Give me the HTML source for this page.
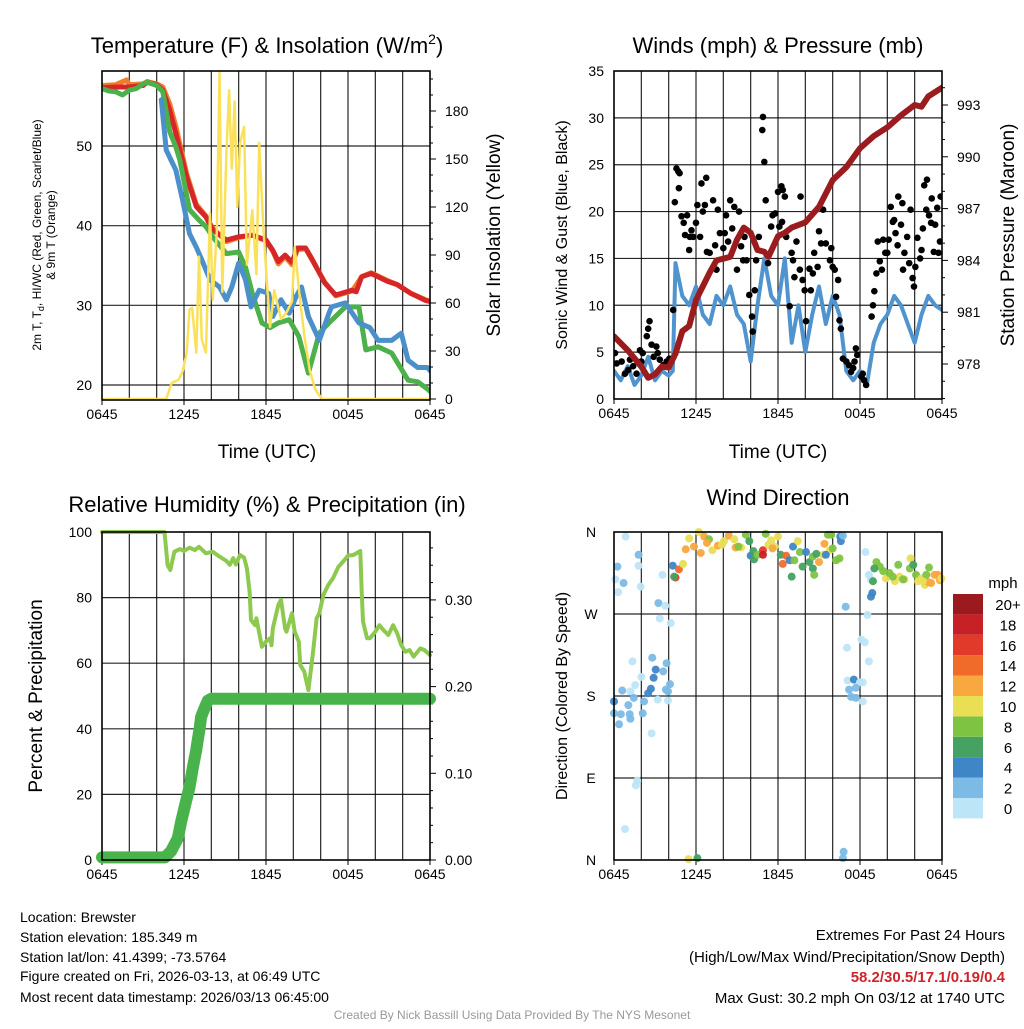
<!DOCTYPE html>
<html><head><meta charset="utf-8">
<style>
html,body{margin:0;padding:0;background:#fff;}
body{width:1024px;height:1024px;overflow:hidden;font-family:"Liberation Sans",Arial,sans-serif;}
svg text{font-family:"Liberation Sans",Arial,sans-serif;}
</style></head>
<body>
<svg id="fig" width="1024" height="1024" viewBox="0 0 1024 1024" xmlns="http://www.w3.org/2000/svg">
<rect width="1024" height="1024" fill="#fff"/>
<text x="267" y="53" font-size="22" text-anchor="middle">Temperature (F) &amp; Insolation (W/m<tspan dy="-9" font-size="14">2</tspan><tspan dy="9">)</tspan></text>
<text x="778" y="53" font-size="22" text-anchor="middle">Winds (mph) &amp; Pressure (mb)</text>
<text x="267" y="512" font-size="22" text-anchor="middle">Relative Humidity (%) &amp; Precipitation (in)</text>
<text x="778" y="505" font-size="22" text-anchor="middle">Wind Direction</text>
<text x="267" y="458" font-size="19" text-anchor="middle">Time (UTC)</text>
<text x="778" y="458" font-size="19" text-anchor="middle">Time (UTC)</text>
<text transform="translate(41,235) rotate(-90)" font-size="12" text-anchor="middle">2m T, T<tspan dy="3" font-size="9">d</tspan><tspan dy="-3">, HI/WC (Red, Green, Scarlet/Blue)</tspan></text>
<text transform="translate(55,235) rotate(-90)" font-size="12" text-anchor="middle">&amp; 9m T (Orange)</text>
<text transform="translate(500,235) rotate(-90)" font-size="19" text-anchor="middle">Solar Insolation (Yellow)</text>
<text transform="translate(567,235) rotate(-90)" font-size="16" text-anchor="middle">Sonic Wind &amp; Gust (Blue, Black)</text>
<text transform="translate(1014,235) rotate(-90)" font-size="19" text-anchor="middle">Station Pressure (Maroon)</text>
<text transform="translate(42,696) rotate(-90)" font-size="19" text-anchor="middle">Percent &amp; Precipitation</text>
<text transform="translate(567,696) rotate(-90)" font-size="16" text-anchor="middle">Direction (Colored By Speed)</text>
<g font-size="14">
<text x="20" y="922">Location: Brewster</text>
<text x="20" y="942">Station elevation: 185.349 m</text>
<text x="20" y="962">Station lat/lon: 41.4399; -73.5764</text>
<text x="20" y="981">Figure created on Fri, 2026-03-13, at 06:49 UTC</text>
<text x="20" y="1002">Most recent data timestamp: 2026/03/13 06:45:00</text>
</g>
<g font-size="15" text-anchor="end">
<text x="1005" y="940">Extremes For Past 24 Hours</text>
<text x="1005" y="962">(High/Low/Max Wind/Precipitation/Snow Depth)</text>
<text x="1005" y="982" fill="#d0242b" font-weight="bold">58.2/30.5/17.1/0.19/0.4</text>
<text x="1005" y="1003">Max Gust: 30.2 mph On 03/12 at 1740 UTC</text>
</g>
<text x="512" y="1019" font-size="12" fill="#999" text-anchor="middle">Created By Nick Bassill Using Data Provided By The NYS Mesonet</text>
<g id="layer"></g>
</svg>
<script>
// ---------- data ----------
const xTickLabels = ["0645","1245","1845","0045","0645"];
const redT = [0,1,2,3,3.3,4,4.45,4.95,5.4,6.2,6.9,7.6,8.1,9.1,10,11,12,12.5,12.9,13.4,13.9,14.3,14.9,15.4,16.3,17.1,18.3,18.6,19,19.7,20.9,21.6,22.6,23.7,24];
const redV = [57.3,57.4,57.4,57.6,58,57.7,57,54.5,51.6,46.1,42.4,41.1,39.5,38.2,38.6,38.8,38.2,36.9,35.5,36.3,35.4,37.2,37.2,35.7,32.8,31.3,31.9,31.7,33.6,34,33,32.6,31.5,30.6,30.5];
const orangeT = [0,1,1.8,2,3,3.3,4,4.45,4.95,5.4,6.2,6.9,7.6,8.1,9.1,10,11,12,12.5,12.9,13.4,13.9,14.3,14.9,15.4,16.3,17.1,18.3,19,19.7,20.9,21.6,22.6,23.7,24];
const orangeV = [57.6,57.7,58.3,57.7,57.8,58.1,57.8,57.4,55.3,52.5,46.5,42.7,41.2,39.7,38,38.5,38.8,38.1,36.8,35.2,36.1,35.1,37,37.1,35.6,32.9,31.2,31.8,33.6,34.1,33.1,32.6,31.5,30.7,30.5];
const greenT = [0,0.5,1,1.5,2,2.5,3,3.3,4,4.45,4.95,5.4,5.7,6.4,7.1,7.6,8.1,9.1,10,10.5,11,11.7,12.3,12.9,13.7,14.4,15.1,15.9,16.6,17.8,18.8,19.3,20.2,21.2,22.4,23.1,23.9,24];
const greenV = [57.2,56.9,56.8,56.4,57,57.2,57.8,58,57.6,56.8,51.8,49.9,48.2,42,40.7,39.9,38.6,36.5,36.7,34.8,31.5,27.8,27.2,27.8,28.2,26.1,21.5,26.5,27.8,29.8,29.8,24.4,24.8,24,20.6,20.4,19.4,19.2];
const blueT = [4.34,4.7,5.4,5.9,6.4,6.9,7.3,7.9,8.6,9.1,9.5,10,10.5,10.9,11.5,12.2,12.5,13.1,13.7,14.2,14.6,15.1,15.9,16.6,16.8,17.8,18.8,19.6,20.2,21.2,21.9,22.4,23.1,23.8,24];
const blueV = [55.8,49.5,47,43.2,39,37.3,35.7,33.2,32.3,30.7,32.3,35.3,33.2,29.8,31.9,31.5,28.6,30.7,29,31.1,32.3,28.6,25.6,29,29.8,30.3,27.8,27.2,25.6,25.6,26.5,23.1,22.2,22.2,21.8];
const solarT = [0,4.7,5.1,5.6,5.9,6.2,6.4,6.6,6.9,7.1,7.3,7.6,7.9,8.1,8.4,8.6,8.8,9.1,9.3,9.5,9.7,9.9,10.1,10.4,10.6,11,11.3,11.5,11.8,12.1,12.3,12.6,13.1,13.5,13.9,14.1,14.5,14.8,15.2,15.6,16.1,24];
const solarV = [0,0,10,12,17,29,56,57,29,89,37,29,116,62,104,204,67,154,193,144,186,120,160,170,84,118,78,160,108,68,45,68,50,54,61,95,61,40,18,6,0,0];
const tempTicks = [20,30,40,50];
const solarTicks = [0,30,60,90,120,150,180];
const windT = [0,0.5,1,1.5,2,2.5,3,3.5,4,4.3,4.5,5,5.5,6,6.5,7,7.5,8,8.5,9,9.5,10,10.5,11,11.5,12,12.5,13,13.5,14,14.5,15,15.5,16,16.5,17,17.5,18,18.5,19,19.5,20,20.5,21,21.5,22,22.5,23,23.5,24];
const windV = [3,2,3.5,1.5,2.5,4.5,2,3,2.5,3,14.5,11,10,12,9,8,11,10,12,9,8,4,10,15,11,10,15,6,10,5,9,12,8,11,9,3,2,3,1.5,6,8,9,11,10,8,6,9,11,10,9.5];
const gustT = [0.07,0.2,0.56,1.05,1.4,1.65,2,2.1,2.4,2.6,2.5,2.75,2.9,3.1,3.2,3.35,3.6,3.85,4.05,1.17,0.8,1.9,4.33,4.45,4.57,4.7,4.8,4.75,4.94,5.1,5.2,5.35,5.55,5.67,5.5,5.8,6,6.1,6.3,6.4,6.75,6.5,6.65,6.8,7,7.25,7.4,7.5,7.6,7.75,8,8.1,8.2,8.35,8.5,8.65,8.8,9,9.15,9.3,9.45,9.7,9.55,9.9,10.1,10.15,10.3,10.4,10.6,10.85,10.9,11,11.1,11.27,11.5,11.6,11.8,12,12.25,12.35,12.5,12.1,12.3,12.6,13,12.85,13.1,13.2,13.35,13.6,13.65,13.8,13.95,14.05,14.3,14.4,14.55,14.65,14.9,15,15.15,15.3,15.5,15.8,15.9,16,16.15,16.4,16.25,16.5,16.6,16.75,17,17.2,17.35,17.5,17.7,17.8,17.6,18.1,18.2,18.3,18.45,18.85,18.95,19.05,19.2,19.3,19.45,19.6,19.7,19.85,20,20.1,20.25,20.4,20.5,20.6,20.75,20.8,21,21.1,21.15,21.25,21.45,21.6,21.7,21.85,21.95,22.05,22.2,22.4,22.5,22.6,22.7,22.85,22.9,23.05,23.2,23.25,23.4,23.5,23.65,23.75,23.85,23.9];
const gustV = [4.9,3.8,4,3.1,3.5,2.7,4,4.9,6.7,8.3,7.5,5.8,4.5,5.6,4.9,4.2,3.6,4,4.3,4.2,2.7,5.2,9.5,21,24.6,24.3,24.1,22.5,19.5,18.8,17.5,19.6,17.3,18,15.9,17.3,18.8,20.7,17.3,23,23.6,20,20.7,15.7,15.6,21.2,16.4,13.8,20.2,17.7,16.1,17.7,19.6,16.8,21.2,18.2,20.5,13.8,20,16.3,14.8,14.8,17.3,11.1,8.8,7.2,11.6,14.8,17.3,28.7,30.1,25.3,21.2,14.5,18.4,19.6,19.8,22.1,22.7,22.3,21.6,18.4,18.9,17.3,15.6,9.9,14.8,13,16.8,13.8,21.6,12.7,11.6,8.3,13.9,11.6,13.4,15.6,14.1,17.9,16.6,20.2,16.6,14.8,16.1,14.1,13.8,12.7,10.9,8.4,7.5,4.3,4,3.6,2.9,3.3,5.4,4.7,4,2.4,2.7,2,1.5,8.8,10,11.5,13.4,16.8,14.7,13.8,17,15.6,15.6,17,20.5,18.9,19.1,17.7,16.4,21.6,18.6,20.9,13.8,15.6,17.3,14.5,20.2,12.9,12,14.1,17.2,15,15.9,18.2,22.8,20.2,23.4,19.6,18.8,21.4,15.7,18.6,20.4,15.6,16.8,21.6];
const presT = [0,1,2,2.5,3,3.5,4,4.5,5,5.5,6,7,7.5,8,8.5,9,9.5,10,10.5,11,11.3,12,12.5,13,14,15,16,17,18,19,20,21,22,22.5,23,24];
const presV = [979.6,978.8,977.85,977.2,977.4,977.85,977.8,978.6,979.9,980.2,981.7,983.3,984,984.1,984.2,985.2,985.9,985.6,984.6,984.5,984.2,985.4,985.6,985.9,986.2,987.1,988.65,989.4,990.5,991.2,991.7,992.4,993,992.9,993.5,994];
const windTicks = [0,5,10,15,20,25,30,35];
const presTicks = [978,981,984,987,990,993];
const rhT = [0,4.57,4.8,5,5.3,5.7,6,6.4,6.8,7.1,7.6,8.1,8.6,9.1,9.35,9.6,9.8,10.1,10.4,10.6,10.8,10.9,11.2,11.3,11.7,12,12.3,12.4,12.5,12.9,13.1,13.4,13.5,13.9,14.1,14.4,14.5,14.8,15.1,15.45,15.7,15.9,16.2,16.55,16.9,17.3,17.65,18,18.4,18.9,19,19.1,19.4,19.6,20,20.3,20.6,20.95,21.3,21.6,21.9,22.2,22.5,22.8,23.3,23.6,24];
const rhV = [100,100,89.9,88.4,94,94.8,94.2,95.2,94.5,95.5,93.5,94,92.5,91.2,90,92,90.1,93,92.2,88.9,81.8,73.2,71.6,73.7,65,66.6,67.6,65.5,70.6,77.7,79.3,70.6,69.6,75.2,69.6,66.6,59.5,57.4,51.8,63.5,73.7,75.2,80.8,83.8,85.9,89.4,91,92.8,93,94.2,81.8,72.7,67.6,67.6,69.6,71.6,70.1,68.6,71.6,69.1,65.5,63.5,64,62,64.5,64,62.5];
const precT = [0,4.6,5.05,5.55,5.8,6.15,6.4,6.65,6.9,7,7.15,7.25,7.5,7.75,8,24];
const precV = [0.003,0.003,0.01,0.025,0.045,0.068,0.084,0.107,0.127,0.138,0.152,0.165,0.175,0.184,0.186,0.186];
const rhTicks = [0,20,40,60,80,100];
const precTicks = [0,0.1,0.2,0.3];
const dirT = [0.85,1.8,0.25,1.8,0.1,0.7,1.95,0.3,3.55,4.3,3.25,3.75,3.35,4.15,1.35,2.8,3.85,3.05,3.6,2,2.9,1.55,0.6,1.2,2.7,2.5,4.1,3.8,3.95,1.45,2.2,3.2,3.95,0,1.05,0,0.5,1.15,2.1,1.2,0.37,2.75,1.7,1.6,0.8,5.45,6.1,18.4,16.95,18.55,18.1,18.35,17.05,18.65,17.1,17.55,18,18.2,17.2,17.7,17.35,17.7,18.2,16.8,16.75,18.65,18.8,18.9,18.8,18.95,4.75,4.5,4.4,5.05,5.25,5.5,5.85,6.2,6.6,6.35,6.95,7.2,7.6,8.05,8.4,8.8,8.9,9.3,9.65,9.9,10,10.2,10.25,10.5,10.9,10.9,11.1,11.3,11.5,11.75,12,12.2,12.35,12.6,12.85,13.1,13.2,13,13.45,13.6,13.8,14.05,14.3,14.55,14.65,14.55,15,15.4,15.3,15.65,15.9,15.8,16,16.25,16.5,16.55,16.6,16.75,15.5,19.2,19.45,19.05,19.7,19.9,20.15,20.55,20.8,20.9,21.25,21.65,21.7,21.9,22.1,22.25,22.5,22.75,23,23.05,23.2,23.45,23.7,23.85,23.95,20.4,21.15,22.85,22.6,6.8,7.9,9.1,11.6,14.8];
const dirV = [355,335,322,323,308,304,300,294,313,323,282,279,265,260,218,222,216,209,207,201,200,192,186,185,188,183,193,187,185,178,174,176,175,174,170,161,160,160,161,155,149,139,87,82,34,1,2,338,278,269,242,239,233,218,197,198,195,195,187,189,179,178,174,9,2,313,308,293,289,306,319,310,311,325,341,353,344,360,355,337,352,340,345,350,356,352,343,343,357,350,334,339,330,335,340,335,358,346,351,344,355,335,325,334,329,344,329,311,350,338,322,338,327,320,313,333,327,347,335,357,357,340,342,329,331,355,350,356,335,327,322,320,317,309,315,306,324,311,308,320,331,324,313,306,309,302,305,321,304,313,313,307,309,311,308,313,306,348,346,344,342,336];
const dirS = [1,3,3,1,1,3,1,1,1,4,3,1,1,1,1,2,3,4,3,1,4,1,3,1,4,4,3,3,2,3,3,1,1,4,3,3,3,3,3,3,3,1,1,1,1,10,7,1,3,1,1,1,1,1,1,4,1,1,3,3,3,3,1,3,3,1,1,4,4,6,14,16,7,10,12,10,12,10,12,12,8,10,12,10,12,10,12,10,8,6,4,6,6,8,16,18,8,10,10,10,10,6,14,14,4,4,8,6,10,8,6,4,6,6,8,8,12,12,10,8,8,10,8,8,8,4,4,2,4,8,8,6,8,10,8,10,8,10,10,8,10,6,8,10,10,10,12,8,12,12,12,12,10,8,8,8,10,12,10,8,12,6];
const cbLabels = ["0","2","4","6","8","10","12","14","16","18","20+"];
const cbColors = ["#bde5f8","#7bbbe6","#3f86c6","#45a262","#7ec342","#e8df55","#f9a73f","#f06b2a","#e13a2b","#c72128","#9a1a1e"];

// ---------- helpers ----------
const NS = "http://www.w3.org/2000/svg";
const layer = document.getElementById("layer");
function mk(tag, attrs, name, parent){
  const el = document.createElementNS(NS, tag);
  for (const k in attrs) el.setAttribute(k, attrs[k]);
  
  
  (parent || layer).appendChild(el);
  return el;
}
function txt(x,y,s,name,size,anchor,extra){
  const el = mk("text", Object.assign({x:x,y:y,"font-size":size||14,"text-anchor":anchor||"middle"}, extra||{}), name);
  el.textContent = s;
  return el;
}
function linear(d0,d1,r0,r1){ return v => r0 + (v-d0)*(r1-r0)/(d1-d0); }
function poly(ts, vs, sx, sy, stroke, w, name, parent){
  const pts = ts.map((t,i)=> sx(t).toFixed(1)+","+sy(vs[i]).toFixed(1)).join(" ");
  return mk("polyline",{points:pts,fill:"none",stroke:stroke,"stroke-width":w,"stroke-linejoin":"round","stroke-linecap":"round"}, name, parent);
}
function frame(p, name){
  for (let h=2; h<24; h+=2){
    const x = p.sx(h);
    mk("line",{x1:x,y1:p.y0,x2:x,y2:p.y1,stroke:"#000","stroke-width":1.2,"stroke-opacity":0.85}, name+"-vgrid");
  }
  for (let i=0;i<xTickLabels.length;i++){
    const x = p.sx(i*6);
    mk("line",{x1:x,y1:p.y1,x2:x,y2:p.y1+5,stroke:"#000","stroke-width":1}, name+"-xtick");
    txt(x, p.y1+19, xTickLabels[i], name+"-xtick-label", 14);
  }
}
function box(p,name){
  mk("rect",{x:p.x0,y:p.y0,width:p.x1-p.x0,height:p.y1-p.y0,fill:"none",stroke:"#000","stroke-width":1.6}, name+"-plot-frame");
}

// ---------- Panel 1 ----------
const P1 = {x0:102,x1:430,y0:71,y1:400};
P1.sx = linear(0,24,P1.x0,P1.x1);
const tY = linear(20,50,385,146);
const sY = linear(0,180,399,111);
frame(P1,"temp");
tempTicks.forEach(v=>{
  mk("line",{x1:P1.x0,y1:tY(v),x2:P1.x1,y2:tY(v),stroke:"#000","stroke-width":1.2,"stroke-opacity":0.85},"temp-hgrid");
  txt(P1.x0-10,tY(v)+5,String(v),"temp-ytick-label",14,"end");
});
for (let v=0; v<=200; v+=10){
  const y = sY(v); if (y < P1.y0) break;
  mk("line",{x1:P1.x1,y1:y,x2:P1.x1+(v%30===0?6:3),y2:y,stroke:"#000","stroke-width":1},"solar-ytick");
}
solarTicks.forEach(v=> txt(P1.x1+15,sY(v)+5,String(v),"solar-ytick-label",14,"start"));
const clip1 = mk("clipPath",{id:"c1"},"temp-clip");
mk("rect",{x:P1.x0,y:P1.y0,width:P1.x1-P1.x0,height:P1.y1-P1.y0},"temp-clip-rect",clip1);
const g1 = mk("g",{"clip-path":"url(#c1)"},"temp-series");
poly(orangeT,orangeV,P1.sx,tY,"#f07d2b",5,"9m-temp-line",g1);
poly(redT,redV,P1.sx,tY,"#d62628",5,"2m-temp-line",g1);
poly(greenT,greenV,P1.sx,tY,"#4cb14a",5,"dewpoint-line",g1);
poly(blueT,blueV,P1.sx,tY,"#4b8fcb",5,"wind-chill-line",g1);
poly(solarT,solarV,P1.sx,sY,"#fbe15a",2.5,"solar-insolation-line",g1);
box(P1,"temp");

// ---------- Panel 2 ----------
const P2 = {x0:614,x1:942,y0:71,y1:399};
P2.sx = linear(0,24,P2.x0,P2.x1);
const wY = linear(0,35,399,71);
const pY = linear(978,993,364,105);
frame(P2,"wind");
windTicks.forEach(v=>{
  if (v>0 && v<35) mk("line",{x1:P2.x0,y1:wY(v),x2:P2.x1,y2:wY(v),stroke:"#000","stroke-width":1.2,"stroke-opacity":0.85},"wind-hgrid");
  txt(P2.x0-10,wY(v)+5,String(v),"wind-ytick-label",14,"end");
});
for (let v=976; v<=995; v++){
  const y = pY(v); if (y<P2.y0||y>P2.y1) continue;
  mk("line",{x1:P2.x1,y1:y,x2:P2.x1+((v-978)%3===0?6:3),y2:y,stroke:"#000","stroke-width":1},"pressure-ytick");
}
presTicks.forEach(v=> txt(P2.x1+15,pY(v)+5,String(v),"pressure-ytick-label",14,"start"));
const clip2 = mk("clipPath",{id:"c2"},"wind-clip");
mk("rect",{x:P2.x0,y:P2.y0,width:P2.x1-P2.x0,height:P2.y1-P2.y0},"wind-clip-rect",clip2);
const g2 = mk("g",{"clip-path":"url(#c2)"},"wind-series");
poly(windT,windV,P2.sx,wY,"#4f94cf",4,"sustained-wind-line",g2);
gustT.forEach((t,i)=>{
  mk("circle",{cx:P2.sx(t),cy:wY(gustV[i]),r:3.3,fill:"#000"},"gust-point",g2);
});
poly(presT,presV,P2.sx,pY,"#9b1c1f",6,"pressure-line",g2);
box(P2,"wind");

// ---------- Panel 3 ----------
const P3 = {x0:102,x1:430,y0:532,y1:860};
P3.sx = linear(0,24,P3.x0,P3.x1);
const rY = linear(0,100,860,532);
const qY = linear(0,0.1,860,773.3);
frame(P3,"rh");
rhTicks.forEach(v=>{
  if (v>0 && v<100) mk("line",{x1:P3.x0,y1:rY(v),x2:P3.x1,y2:rY(v),stroke:"#000","stroke-width":1.2,"stroke-opacity":0.85},"rh-hgrid");
  txt(P3.x0-10,rY(v)+5,String(v),"rh-ytick-label",14,"end");
});
for (let k=0;k<=19;k++){
  const v=k*0.02, y=qY(v); if (y<P3.y0) break;
  mk("line",{x1:P3.x1,y1:y,x2:P3.x1+(k%5===0?6:3),y2:y,stroke:"#000","stroke-width":1},"precip-ytick");
}
precTicks.forEach(v=> txt(P3.x1+15,qY(v)+5,v.toFixed(2),"precip-ytick-label",14,"start"));
poly(precT,precV,P3.sx,qY,"#48b34a",12,"precip-line");
poly(rhT,rhV,P3.sx,rY,"#8dc94f",4,"rh-line");
box(P3,"rh");

// ---------- Panel 4 ----------
const P4 = {x0:614,x1:942,y0:532,y1:860};
P4.sx = linear(0,24,P4.x0,P4.x1);
const dY = linear(0,360,860,532);
frame(P4,"dir");
const dirLabels = ["N","E","S","W","N"];
dirLabels.forEach((s,i)=>{
  const y = dY(i*90);
  if (i>0 && i<4) mk("line",{x1:P4.x0,y1:y,x2:P4.x1,y2:y,stroke:"#000","stroke-width":1.2,"stroke-opacity":0.85},"dir-hgrid");
  txt(P4.x0-23,y+5,s,"dir-ytick-label",14,"middle");
});
dirT.forEach((t,i)=>{
  const c = cbColors[Math.min(10,Math.floor(dirS[i]/2))];
  mk("circle",{cx:P4.sx(t),cy:dY(dirV[i]),r:4,fill:c,"fill-opacity":0.95},"direction-point");
});
box(P4,"dir");
txt(1003,588,"mph","colorbar-title",15,"middle");
cbLabels.forEach((s,i)=>{
  const y = 594 + (10-i)*20.4;
  mk("rect",{x:953,y:y,width:30,height:20.4,fill:cbColors[i]},"colorbar-swatch");
  txt(1008,y+16,s,"colorbar-label",15,"middle");
});
</script>
</body></html>
